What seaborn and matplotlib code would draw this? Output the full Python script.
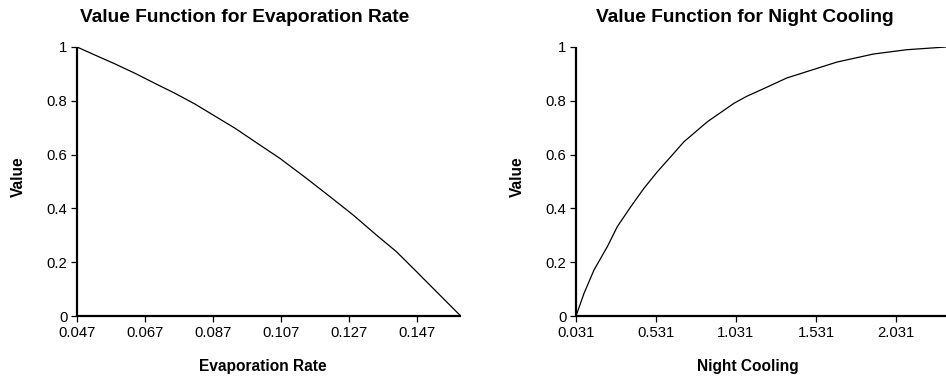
import matplotlib
matplotlib.use("Agg")
import matplotlib.pyplot as plt
import seaborn as sns
import pandas as pd

# Value function for evaporation rate
evap_rate = [0.047, 0.0523, 0.0582, 0.0641, 0.0699, 0.0758, 0.0817, 0.0876,
             0.0935, 0.0996, 0.1067, 0.1145, 0.1214, 0.1283, 0.1351, 0.1410,
             0.1469, 0.1528, 0.1599]
evap_value = [1.0, 0.970, 0.937, 0.902, 0.865, 0.828, 0.788, 0.743,
              0.698, 0.646, 0.586, 0.512, 0.444, 0.375, 0.301, 0.239,
              0.165, 0.090, 0.0]
evap_ticks = [0.047, 0.067, 0.087, 0.107, 0.127, 0.147]

# Value function for night cooling
night_cooling = [0.031, 0.081, 0.1435, 0.227, 0.289, 0.373, 0.456, 0.539,
                 0.623, 0.706, 0.852, 1.019, 1.099, 1.207, 1.349, 1.662,
                 1.891, 2.100, 2.343]
night_value = [0.0, 0.084, 0.171, 0.258, 0.332, 0.406, 0.475, 0.536,
               0.592, 0.648, 0.722, 0.791, 0.817, 0.846, 0.885, 0.944,
               0.974, 0.990, 1.0]
night_ticks = [0.031, 0.531, 1.031, 1.531, 2.031]

value_ticks = [0, 0.2, 0.4, 0.6, 0.8, 1]
value_labels = ["0", "0.2", "0.4", "0.6", "0.8", "1"]

sns.set_style("ticks")
plt.rcParams["font.family"] = ["Liberation Sans", "DejaVu Sans"]
plt.rcParams["text.color"] = "black"

fig = plt.figure(figsize=(9.46, 3.76), dpi=100)
W, H = 946, 376
ax1 = fig.add_axes([77 / W, 1 - 316 / H, (460.7 - 77) / W, (316 - 47) / H])
ax2 = fig.add_axes([576 / W, 1 - 316 / H, (946 - 576) / W, (316 - 47) / H])

df1 = pd.DataFrame({"x": evap_rate, "v": evap_value})
df2 = pd.DataFrame({"x": night_cooling, "v": night_value})
sns.lineplot(data=df1, x="x", y="v", ax=ax1, color="black", linewidth=0.9)
sns.lineplot(data=df2, x="x", y="v", ax=ax2, color="black", linewidth=0.9)

for ax, xt, xlim in ((ax1, evap_ticks, (0.047, 0.1599)),
                     (ax2, night_ticks, (0.031, 2.3435))):
    ax.set_xlim(*xlim)
    ax.set_ylim(0, 1)
    ax.set_xticks(xt)
    ax.set_xticklabels([f"{t:.3f}" for t in xt])
    ax.set_yticks(value_ticks)
    ax.set_yticklabels(value_labels)
    ax.set_xlabel("")
    ax.set_ylabel("")
    for s in ("top", "right"):
        ax.spines[s].set_visible(False)
    for s in ("left", "bottom"):
        ax.spines[s].set_linewidth(1.6)
        ax.spines[s].set_color("black")
        ax.spines[s].set_capstyle("butt")
    ax.tick_params(direction="out", length=4, width=0.9, colors="black",
                   labelsize=10.7, pad=3)
    ax.patch.set_alpha(0)

fig.text(245 / W, 1 - 17 / H, "Value Function for Evaporation Rate",
         ha="center", va="center", fontsize=13.8, fontweight="bold",
         color="black")
fig.text(745 / W, 1 - 17 / H, "Value Function for Night Cooling",
         ha="center", va="center", fontsize=13.8, fontweight="bold",
         color="black")
fig.text(262.5 / W, 1 - 366 / H, "Evaporation Rate",
         ha="center", va="center", fontsize=11.2, fontweight="bold",
         color="black")
fig.text(748 / W, 1 - 366 / H, "Night Cooling",
         ha="center", va="center", fontsize=11.2, fontweight="bold",
         color="black")
fig.text(18 / W, 1 - 177 / H, "Value", ha="center", va="center",
         fontsize=11.2, fontweight="bold", rotation=90, color="black")
fig.text(517 / W, 1 - 177 / H, "Value", ha="center", va="center",
         fontsize=11.2, fontweight="bold", rotation=90, color="black")

fig.savefig("out.png", dpi=100, facecolor="white")
